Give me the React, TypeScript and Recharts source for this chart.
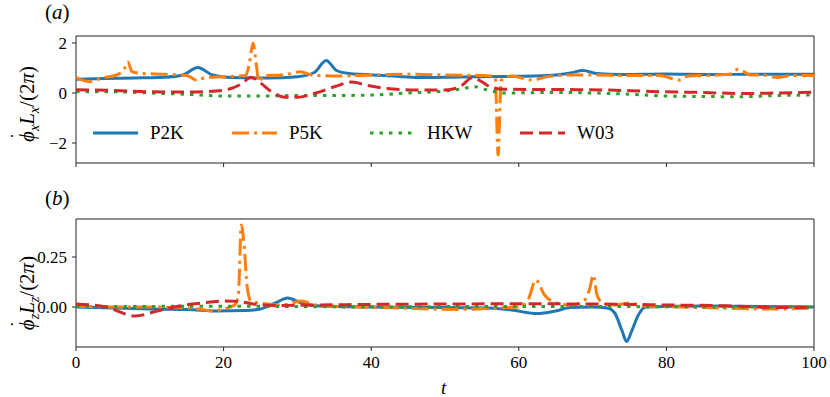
import { LineChart, Line, XAxis, YAxis, ReferenceArea } from "recharts";

// shared time axis
const tTicks = [0, 20, 40, 60, 80, 100];

// panel (a): phi_x L_x / (2 pi), points are [t, value]
const ticksA = [-2, 0, 2];
const p2kA = [
  [0, 0.55], [4, 0.58], [8, 0.6], [12, 0.63], [14.5, 0.72], [16.5, 1.02], [18.5, 0.72],
  [21, 0.62], [26, 0.6], [30, 0.65], [32.3, 0.82], [33.9, 1.3], [35.3, 0.9], [37, 0.78],
  [42, 0.7], [46, 0.62], [52, 0.64], [58, 0.66], [64, 0.7], [67, 0.8], [68.7, 0.9],
  [70.5, 0.78], [74, 0.74], [80, 0.76], [86, 0.74], [92, 0.75], [100, 0.75],
];
const p5kA = [
  [0, 0.62], [1.8, 0.45], [3.5, 0.6], [5.5, 0.72], [6.6, 1.0], [7, 1.25], [7.6, 0.85],
  [9, 0.78], [12, 0.75], [15, 0.7], [16.5, 0.5], [17.5, 0.62], [20, 0.65], [23, 0.7],
  [23.5, 1.2], [24, 2.0], [24.4, 1.2], [24.8, 0.45], [25.5, 0.7], [28, 0.72], [30.4, 0.85],
  [32, 0.72], [35, 0.68], [40, 0.72], [45, 0.75], [50, 0.72], [55, 0.7], [56.8, 0.65],
  [57.2, -2.48], [57.6, 0.5], [59, 0.68], [61.8, 0.52], [64, 0.66], [67, 0.72], [70, 0.72],
  [75, 0.7], [79, 0.7], [81.8, 0.52], [83, 0.68], [87, 0.72], [88.5, 0.75], [89.7, 0.95],
  [91.5, 0.72], [93, 0.72], [95, 0.62], [97, 0.7], [100, 0.7],
];
const hkwA = [
  [0, 0.05], [5, 0.05], [10, 0.0], [15, -0.05], [20, -0.12], [25, -0.12], [30, -0.1],
  [35, -0.1], [40, -0.08], [45, 0.0], [50, 0.08], [52, 0.15], [54, 0.25], [56, 0.1],
  [58, 0.0], [65, 0.02], [70, 0.0], [75, -0.05], [80, -0.12], [85, -0.14], [90, -0.15],
  [95, -0.1], [100, -0.08],
];
const w03A = [
  [0, 0.13], [5, 0.1], [10, 0.05], [15, 0.04], [19, 0.08], [21, 0.18], [22.5, 0.38],
  [23.7, 0.63], [25, 0.4], [26.5, 0.05], [28.3, -0.17], [30, -0.17], [32.5, 0.0], [35, 0.25],
  [37.4, 0.44], [39.5, 0.3], [42, 0.18], [46, 0.12], [50, 0.12], [52, 0.25], [53.8, 0.62],
  [55, 0.45], [56.3, 0.22], [58, 0.15], [65, 0.14], [72, 0.12], [78, 0.06], [85, 0.02],
  [90, -0.02], [95, 0.0], [100, 0.03],
];

// panel (b): phi_z L_z / (2 pi)
const ticksB = [0, 0.25];
const p2kB = [
  [0, 0.0], [5, -0.005], [10, -0.01], [15, -0.012], [19, -0.02], [23, -0.018], [25, -0.01],
  [27, 0.02], [28.7, 0.045], [30.5, 0.02], [33, 0.005], [40, 0.0], [50, -0.003], [56, -0.005],
  [59, -0.015], [62.5, -0.033], [65, -0.02], [67, -0.003], [70, 0.0], [72, -0.005], [73, -0.03],
  [74, -0.12], [74.6, -0.172], [75.3, -0.12], [76.2, -0.04], [77.2, 0.0], [85, 0.005], [100, 0.0],
];
const p5kB = [
  [0, 0.005], [5, 0.0], [10, 0.0], [15, -0.005], [17, -0.012], [18.5, -0.02], [20, -0.01],
  [21.5, 0.01], [22, 0.06], [22.4, 0.41], [22.8, 0.3], [23.2, 0.1], [23.7, 0.03], [25, 0.02],
  [28, 0.01], [30.5, 0.03], [32.5, 0.01], [38, 0.0], [44, -0.005], [48, -0.01], [52, -0.012],
  [57, -0.005], [60, 0.0], [61.3, 0.04], [62.3, 0.135], [63.5, 0.06], [65, 0.02], [67, 0.01],
  [68.8, 0.03], [69.6, 0.09], [70.1, 0.16], [70.6, 0.06], [71.5, 0.015], [73, 0.01], [75, 0.02],
  [77, 0.005], [82, 0.0], [90, -0.008], [95, -0.01], [100, -0.005],
];
const hkwB = [
  [0, 0.002], [10, 0.003], [20, 0.004], [30, 0.002], [40, 0.0], [50, 0.002], [60, 0.003],
  [70, 0.003], [80, 0.001], [90, 0.0], [100, 0.0],
];
const w03B = [
  [0, 0.015], [4, 0.0], [8, -0.045], [11, -0.02], [14, 0.005], [17, 0.02], [20, 0.03],
  [22, 0.028], [24, 0.015], [27, 0.008], [32, 0.01], [40, 0.013], [50, 0.015], [60, 0.016],
  [70, 0.015], [75, 0.013], [80, 0.01], [88, 0.006], [95, -0.003], [100, 0.0],
];

const seriesNames = ["P2K", "P5K", "HKW", "W03"];
const colors = ["#1f77b4", "#ff7f0e", "#2ca02c", "#d62728"];
const dashes = [undefined, "17 5 3 5", "3.5 6", "13 6"];
const legendWidths = [139, 138, 150, 100];

const FONT =
  "Liberation Serif, Times New Roman, Times, DejaVu Serif, Noto Serif, FreeSerif, serif";
const AXIS = "#222";

const toRows = (pts: number[][]) => pts.map(([t, v]) => ({ t, v }));

const tickStyle = { fill: "#000", fontSize: 17, fontFamily: FONT };
const fmtA = (v: number) => (v < 0 ? "\u2212" + Math.abs(v) : String(v));
const fmtB = (v: number) => v.toFixed(2);

function Panel({
  series,
  domain,
  ticks,
  fmt,
  height,
  top,
  xLabels,
}: {
  series: number[][][];
  domain: [number, number];
  ticks: number[];
  fmt: (v: number) => string;
  height: number;
  top: number;
  xLabels: boolean;
}) {
  return (
    <LineChart
      width={830}
      height={height}
      margin={{ top, right: 16, left: 0, bottom: 0 }}
      style={{ fontFamily: FONT }}
    >
      <XAxis
        type="number"
        dataKey="t"
        domain={[0, 100]}
        ticks={tTicks}
        allowDuplicatedCategory={false}
        axisLine={false}
        tickLine={{ stroke: AXIS }}
        tickSize={4}
        tickMargin={5}
        height={xLabels ? 50 : 37}
        tick={tickStyle}
        tickFormatter={xLabels ? (v: number) => String(v) : () => ""}
      />
      <YAxis
        type="number"
        dataKey="v"
        domain={domain}
        ticks={ticks}
        allowDataOverflow
        axisLine={false}
        tickLine={{ stroke: AXIS }}
        tickSize={4}
        tickMargin={5}
        width={76}
        tick={tickStyle}
        tickFormatter={fmt}
      />
      {series.map((pts, i) => (
        <Line
          key={seriesNames[i]}
          data={toRows(pts)}
          dataKey="v"
          type="monotone"
          stroke={colors[i]}
          strokeWidth={3}
          strokeDasharray={dashes[i]}
          dot={false}
          activeDot={false}
          isAnimationActive={false}
        />
      ))}
      <ReferenceArea
        x1={0}
        x2={100}
        y1={domain[0]}
        y2={domain[1]}
        fill="none"
        fillOpacity={0}
        stroke={AXIS}
        strokeWidth={1}
        ifOverflow="visible"
      />
    </LineChart>
  );
}

function YLabel({ sub, cy }: { sub: string; cy: number }) {
  const w = 150;
  const h = 26;
  return (
    <div
      style={{
        position: "absolute",
        left: 27 - w / 2,
        top: cy - h / 2,
        width: w,
        height: h,
        lineHeight: `${h}px`,
        textAlign: "center",
        transform: "rotate(-90deg)",
        fontFamily: FONT,
        fontSize: 21,
        whiteSpace: "nowrap",
      }}
    >
      <span style={{ position: "relative", display: "inline-block" }}>
        <i>{"\u03d5"}</i>
        <span
          style={{ position: "absolute", left: 3, top: -9, fontSize: 18 }}
        >
          {"\u02d9"}
        </span>
      </span>
      <sub style={{ fontSize: 14 }}>
        <i>{sub}</i>
      </sub>
      <i>L</i>
      <sub style={{ fontSize: 14 }}>
        <i>{sub}</i>
      </sub>
      /(2<i>{"\u03c0"}</i>)
    </div>
  );
}

function LegendBox() {
  return (
    <div
      style={{
        position: "absolute",
        left: 93,
        top: 121,
        display: "flex",
        alignItems: "center",
        fontFamily: FONT,
        fontSize: 19,
        height: 24,
      }}
    >
      {seriesNames.map((name, i) => (
        <div
          key={name}
          style={{ display: "flex", alignItems: "center", width: legendWidths[i] }}
        >
          <svg width={45} height={10} style={{ marginRight: 12 }}>
            <line
              x1={0}
              y1={5}
              x2={45}
              y2={5}
              stroke={colors[i]}
              strokeWidth={3}
              strokeDasharray={dashes[i]}
            />
          </svg>
          <span>{name}</span>
        </div>
      ))}
    </div>
  );
}

export default function App() {
  const textBase = { position: "absolute" as const, fontFamily: FONT, fontSize: 21 };
  return (
    <div
      style={{
        position: "absolute",
        left: 0,
        top: 0,
        width: 830,
        height: 397,
        background: "#fff",
      }}
    >
      <div style={{ position: "absolute", left: 0, top: 0 }}>
        <Panel
          series={[p2kA, p5kA, hkwA, w03A]}
          domain={[-2.8, 2.28]}
          ticks={ticksA}
          fmt={fmtA}
          height={200}
          top={36}
          xLabels={false}
        />
      </div>
      <div style={{ position: "absolute", left: 0, top: 190 }}>
        <Panel
          series={[p2kB, p5kB, hkwB, w03B]}
          domain={[-0.2, 0.44]}
          ticks={ticksB}
          fmt={fmtB}
          height={207}
          top={29}
          xLabels
        />
      </div>
      <LegendBox />
      <YLabel sub="x" cy={104} />
      <YLabel sub="z" cy={293} />
      <div style={{ ...textBase, left: 45, top: 0 }}>
        (<i>a</i>)
      </div>
      <div style={{ ...textBase, left: 45, top: 186 }}>
        (<i>b</i>)
      </div>
      <div style={{ ...textBase, fontSize: 19, left: 441, top: 377 }}>
        <i>t</i>
      </div>
    </div>
  );
}
